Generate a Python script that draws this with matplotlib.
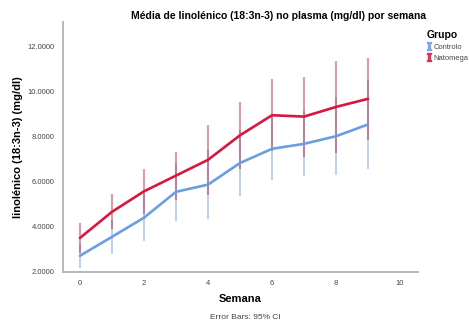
import numpy as np
import matplotlib
matplotlib.use("Agg")
import matplotlib.pyplot as plt
from matplotlib.lines import Line2D
from matplotlib.ticker import FormatStrFormatter

plt.rcParams["font.family"] = ["Liberation Sans", "DejaVu Sans"]

# Data
semanas = [0, 1, 2, 3, 4, 5, 6, 7, 8, 9]
controlo_media = [2.72, 3.56, 4.41, 5.56, 5.88, 6.84, 7.47, 7.69, 8.03, 8.55]
controlo_ci = [0.54, 0.76, 1.05, 1.28, 1.52, 1.48, 1.40, 1.44, 1.74, 1.96]
natomega_media = [3.51, 4.67, 5.58, 6.28, 6.98, 8.07, 8.96, 8.90, 9.33, 9.69]
natomega_ci = [0.67, 0.78, 1.00, 1.07, 1.55, 1.50, 1.59, 1.78, 2.03, 1.82]
grupos = ["Controlo", "Natomega"]
cores = ["#6b9de3", "#d8163f"]

fig = plt.figure(figsize=(4.69, 3.27), dpi=100)
ax = fig.add_axes([0.1343, 0.1682, 0.7563, 0.7645])

x = np.array(semanas)
series = [(controlo_media, controlo_ci), (natomega_media, natomega_ci)]
for (media, ci), cor in zip(series, cores):
    media = np.array(media)
    ci = np.array(ci)
    ax.vlines(x, media - ci, media + ci, colors=cor, linewidth=1.1, alpha=0.6, zorder=2)
    ax.plot(x, media, color=cor, linewidth=1.9, zorder=3, solid_capstyle="round")

ax.set_xlim(-0.53, 10.55)
ax.set_ylim(2.0, 13.1)
ax.set_xticks([0, 2, 4, 6, 8, 10])
ax.set_yticks([2, 4, 6, 8, 10, 12])
ax.yaxis.set_major_formatter(FormatStrFormatter("%.4f"))
ax.tick_params(length=0, labelsize=5.5, labelcolor="#444444", pad=6)

for s in ["top", "right"]:
    ax.spines[s].set_visible(False)
for s in ["left", "bottom"]:
    ax.spines[s].set_color("#b8b8b8")
    ax.spines[s].set_linewidth(1.4)

ax.set_xlabel("Semana", fontsize=8, fontweight="bold", labelpad=5)
ax.set_ylabel("linolénico (18:3n-3) (mg/dl)", fontsize=8, fontweight="bold", labelpad=3)

fig.text(0.595, 0.952, "Média de linolénico (18:3n-3) no plasma (mg/dl) por semana",
         ha="center", va="center", fontsize=7.5, fontweight="bold")
fig.text(0.522, 0.028, "Error Bars: 95% CI", ha="center", va="center",
         fontsize=6, color="#444444")

handles = [Line2D([], [], marker=r"$\mathtt{I}$", linestyle="none", color=c,
                  markersize=5.5, alpha=0.8) for c in cores]
leg = fig.legend(handles, grupos, title="Grupo", loc="upper left",
                 bbox_to_anchor=(0.898, 0.925), frameon=False, fontsize=5.4,
                 handlelength=0.6, handletextpad=0.3, labelspacing=0.5,
                 borderpad=0.2, alignment="left")
leg.get_title().set_fontweight("bold")
leg.get_title().set_fontsize(7.5)
for t in leg.get_texts():
    t.set_color("#444444")

fig.savefig("out.png", dpi=100)
